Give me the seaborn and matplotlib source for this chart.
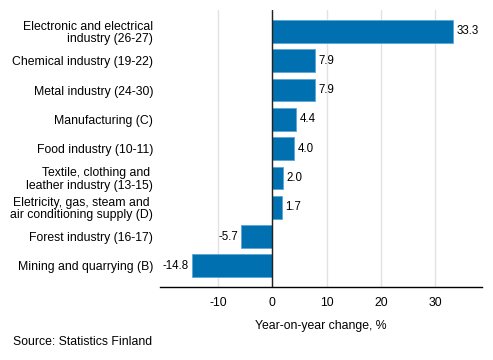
import matplotlib
matplotlib.use("Agg")
import matplotlib.pyplot as plt
import seaborn as sns
import pandas as pd

categories = [
    "Electronic and electrical\nindustry (26-27)",
    "Chemical industry (19-22)",
    "Metal industry (24-30)",
    "Manufacturing (C)",
    "Food industry (10-11)",
    "Textile, clothing and \nleather industry (13-15)",
    "Eletricity, gas, steam and \nair conditioning supply (D)",
    "Forest industry (16-17)",
    "Mining and quarrying (B)",
]
values = [33.3, 7.9, 7.9, 4.4, 4.0, 2.0, 1.7, -5.7, -14.8]
xticks = [-10, 0, 10, 20, 30]

FS = 8.8

sns.set_theme(style="white")
plt.rcParams['font.family'] = ['Liberation Sans', 'DejaVu Sans']
plt.rcParams['font.size'] = FS

df = pd.DataFrame({"cat": categories, "val": values})

fig = plt.figure(figsize=(4.93, 3.6), dpi=100)
ax = fig.add_axes([160/493, 1-287/360, (482-160)/493, (287-10)/360])

sns.barplot(data=df, x="val", y="cat", orient="h", color="#0070b0",
            saturation=1, width=0.78, edgecolor="#5aa6d6", linewidth=0.6, ax=ax, zorder=3)

ax.set_xlim(-20.7, 38.6)
ax.set_ylim(8.72, -0.73)
ax.set_xticks(xticks)
ax.set_xticklabels([str(t) for t in xticks], fontsize=FS, color="#000000")
ax.tick_params(axis="x", length=0, pad=7)
ax.tick_params(axis="y", length=0, pad=5)
for lbl in ax.get_yticklabels():
    lbl.set_fontsize(FS)
    lbl.set_color("#000000")
    lbl.set_horizontalalignment("right")
    lbl.set_linespacing(1.05)

ax.grid(axis="x", color="#e2e2e2", linewidth=1, zorder=0)
ax.axvline(0, color="#222222", linewidth=1, zorder=4)
for s in ["top", "right", "left"]:
    ax.spines[s].set_visible(False)
ax.spines["bottom"].set_color("#000000")
ax.spines["bottom"].set_linewidth(1)

ax.set_ylabel("")
ax.set_xlabel("Year-on-year change, %", fontsize=FS, color="#000000", labelpad=8)

for i, v in enumerate(values):
    if v >= 0:
        ax.annotate(f"{v:.1f}", (v, i), xytext=(2.5, 0), textcoords="offset points",
                    ha="left", va="center", fontsize=8.3, color="#000000")
    else:
        ax.annotate(f"{v:.1f}", (v, i), xytext=(-2.5, 0), textcoords="offset points",
                    ha="right", va="center", fontsize=8.3, color="#000000")

fig.text(13/493, 1-342/360, "Source: Statistics Finland", fontsize=FS,
         ha="left", va="center", color="#000000")

fig.savefig("out.png", dpi=100)
